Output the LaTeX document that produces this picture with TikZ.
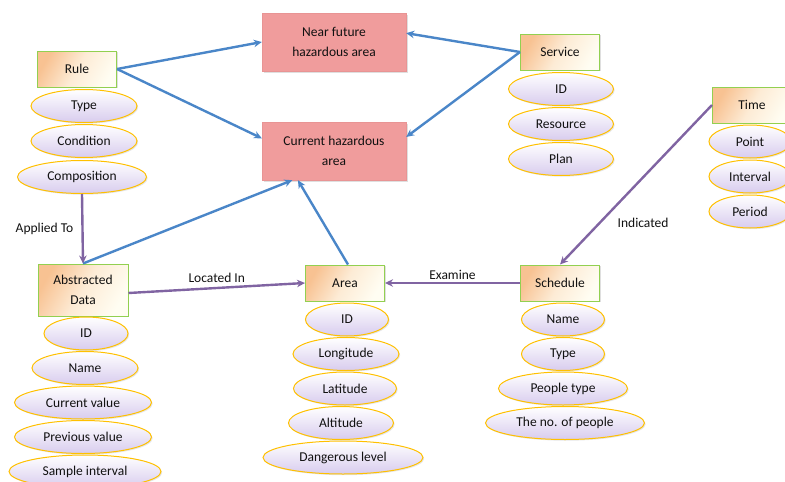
\documentclass[tikz,border=0pt]{standalone}
\usepackage{fontspec}
\setmainfont{Carlito}
\usetikzlibrary{arrows.meta,positioning,shapes.geometric,shadows}
\definecolor{zonefill}{HTML}{F09C9C}
\definecolor{zonedraw}{HTML}{E89494}
\definecolor{entdraw}{HTML}{92D050}
\definecolor{entin}{HTML}{FFFDF2}
\definecolor{entout}{HTML}{F8C292}
\definecolor{attrdraw}{HTML}{FFC000}
\definecolor{attrbot}{HTML}{D8CCEE}
\definecolor{hzblue}{HTML}{4A86C8}
\definecolor{lnkpurple}{HTML}{8064A2}
\definecolor{ink}{HTML}{111111}

\begin{document}
\begin{tikzpicture}[
  x=1pt, y=-1pt,
  >={Stealth[length=8pt,width=7.5pt]},
  font=\fontsize{13.5}{20}\selectfont,
  ent/.style={draw=entdraw, line width=1pt, left color=entout, right color=entin,
              middle color=entin!70!entout, shading angle=60,
              minimum width=79pt, minimum height=36pt, align=center, text=ink,
              drop shadow={shadow xshift=1.2pt, shadow yshift=-1.2pt, opacity=0.25}},
  attr/.style={ellipse, draw=attrdraw, line width=1pt, top color=white, bottom color=attrbot,
               minimum height=33pt, inner sep=1pt, text=ink,
               drop shadow={shadow xshift=1.2pt, shadow yshift=-1.2pt, opacity=0.2}},
  zone/.style={draw=zonedraw, fill=zonefill, minimum width=144pt, minimum height=58pt,
               align=center, text=ink,
               drop shadow={shadow xshift=1.5pt, shadow yshift=-1.5pt, opacity=0.25}},
  rel/.style={->, hzblue, line width=2.4pt},
  assoc/.style={->, lnkpurple, line width=2.4pt},
  lbl/.style={text=ink, inner sep=2pt},
]
\useasboundingbox (0,0) rectangle (785,482);

% ============================================================ HAZARD AREAS
\node[zone] (near) at (334,42) {Near future\\hazardous area};
\node[zone] (curr) at (334,151) {Current hazardous\\area};

% ============================================================ RULE
\node[ent] (rule) at (77,69) {Rule};
\node[attr, minimum width=106pt, below=1.5pt of rule, xshift=7pt] (rtype) {Type};
\node[attr, minimum width=106pt, below=1pt of rtype] (rcond) {Condition};
\node[attr, minimum width=129pt, below=2pt of rcond, xshift=-2pt] (rcomp) {Composition};

% ============================================================ SERVICE
\node[ent] (serv) at (560,52) {Service};
\node[attr, minimum width=105pt, below=1.5pt of serv, xshift=1pt] (sid) {ID};
\node[attr, minimum width=105pt, below=1pt of sid] (sres) {Resource};
\node[attr, minimum width=105pt, below=1pt of sres] (splan) {Plan};

% ============================================================ TIME
\node[ent] (time) at (752,105) {Time};
\node[attr, minimum width=82pt, below=1pt of time, xshift=-2pt] (tpoint) {Point};
\node[attr, minimum width=82pt, below=1pt of tpoint] (tint) {Interval};
\node[attr, minimum width=82pt, below=1pt of tint] (tper) {Period};

% ============================================================ ABSTRACTED DATA
\node[ent, minimum width=90pt, minimum height=52pt] (absd) at (83,290) {Abstracted\\Data};
\node[attr, minimum width=84pt, below=0pt of absd, xshift=3pt] (aid) {ID};
\node[attr, minimum width=106pt, below=0.5pt of aid, xshift=-1pt] (aname) {Name};
\node[attr, minimum width=137pt, below=0.5pt of aname, xshift=-2pt] (acur) {Current value};
\node[attr, minimum width=137pt, below=0.5pt of acur] (aprev) {Previous value};
\node[attr, minimum width=152pt, below=0.5pt of aprev, xshift=2pt] (asamp) {Sample interval};

% ============================================================ AREA
\node[ent] (area) at (345,283) {Area};
\node[attr, minimum width=83pt, below=1pt of area, xshift=2pt] (arid) {ID};
\node[attr, minimum width=106pt, below=0.5pt of arid, xshift=-1pt] (arlon) {Longitude};
\node[attr, minimum width=103pt, below=0.5pt of arlon, xshift=-1pt] (arlat) {Latitude};
\node[attr, minimum width=105pt, below=0.5pt of arlat, xshift=-4pt] (aralt) {Altitude};
\node[attr, minimum width=160pt, below=0.5pt of aralt, xshift=2pt] (ardang) {Dangerous level};

% ============================================================ SCHEDULE
\node[ent] (sched) at (560,283) {Schedule};
\node[attr, minimum width=83pt, below=1pt of sched, xshift=3pt] (scname) {Name};
\node[attr, minimum width=83pt, below=0.5pt of scname] (sctype) {Type};
\node[attr, minimum width=129pt, below=0.5pt of sctype] (scpeop) {People type};
\node[attr, minimum width=159pt, below=0.5pt of scpeop, xshift=2pt] (scno) {The no. of people};

% ============================================================ LINKS
\draw[rel] (rule.east) -- (near.west);
\draw[rel] (rule.east) -- (curr.170);
\draw[rel] (serv.west) -- (near.7);
\draw[rel] (serv.west) -- (curr.11);
\draw[rel] (absd.north) -- (curr.215);
\draw[rel] ([xshift=3pt]area.north) -- (curr.219);

\draw[assoc] (rcomp.south) -- node[lbl, left, xshift=-6pt]{Applied To} (absd.north);
\draw[assoc] ([yshift=-3pt]absd.east) -- node[lbl, above, yshift=2pt]{Located In} (area.west);
\draw[assoc] (sched.west) -- node[lbl, above]{Examine} (area.east);
\draw[assoc] (time.west) -- node[lbl, pos=0.74, right, xshift=15pt]{Indicated} (sched.north);

\end{tikzpicture}
\end{document}
